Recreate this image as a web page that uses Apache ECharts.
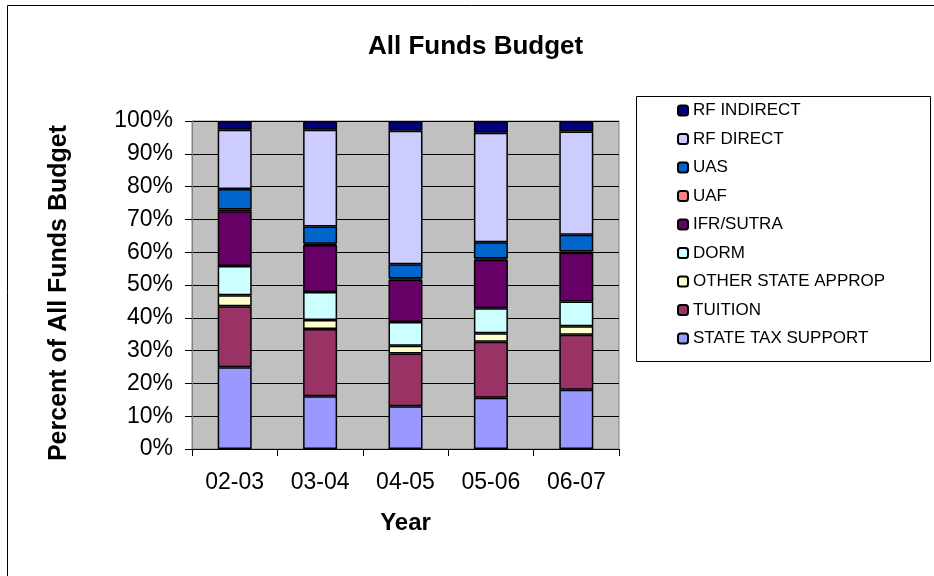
<!DOCTYPE html>
<html>
<head>
<meta charset="utf-8">
<script src="https://cdn.jsdelivr.net/npm/echarts@6/dist/echarts.min.js"></script>
<style>
html,body{margin:0;padding:0;background:#fff;}
#chart{width:934px;height:576px;}
</style>
</head>
<body>
<div id="chart"></div>
<script>
// Categories (fiscal years)
const categories = ['02-03', '03-04', '04-05', '05-06', '06-07'];

// Percent of all funds budget, per source
const stateTaxSupport = [24.9, 16.1, 13.0, 15.6, 18.1];
const tuition         = [18.6, 20.5, 16.1, 17.1, 16.7];
const otherStateAppr  = [3.4, 2.7, 2.4, 2.6, 2.6];
const dorm            = [8.9, 8.6, 7.2, 7.6, 7.6];
const ifrSutra        = [16.7, 14.3, 12.9, 14.8, 14.8];
const uaf             = [0.5, 0.4, 0.4, 0.4, 0.4];
const uas             = [6.3, 5.2, 4.3, 4.9, 5.1];
const rfDirect        = [18.0, 29.5, 40.7, 33.4, 31.5];
const rfIndirect      = [2.7, 2.7, 3.0, 3.6, 3.2];

// Series names (bottom to top)
const seriesNames = ['STATE TAX SUPPORT', 'TUITION', 'OTHER STATE APPROP', 'DORM', 'IFR/SUTRA', 'UAF', 'UAS', 'RF DIRECT', 'RF INDIRECT'];
const seriesValues = [stateTaxSupport, tuition, otherStateAppr, dorm, ifrSutra, uaf, uas, rfDirect, rfIndirect];
const seriesColors = ['#9999FF', '#993366', '#FFFFCC', '#CCFFFF', '#660066', '#FF8080', '#0066CC', '#CCCCFF', '#000080'];

// Y-axis tick settings
const yMin = 0, yMax = 100, yInterval = 10;

const FONT = 'Arial, "Liberation Sans", Helvetica, sans-serif';

const chart = echarts.init(document.getElementById('chart'), null, {renderer: 'canvas'});

const series = seriesNames.map((name, i) => ({
  name: name,
  type: 'bar',
  stack: 'total',
  barWidth: 34,
  data: seriesValues[i],
  itemStyle: {color: seriesColors[i], borderColor: '#000', borderWidth: 1.5},
  emphasis: {disabled: true}
}));

chart.setOption({
  backgroundColor: '#fff',
  animation: false,
  textStyle: {fontFamily: FONT},
  title: {
    text: 'All Funds Budget',
    left: 368,
    top: 34,
    padding: 0,
    textStyle: {fontSize: 26, fontWeight: 'bold', color: '#000', fontFamily: FONT}
  },
  graphic: [
    {type: 'rect', z: -10, silent: true, shape: {x: 7.5, y: 5.5, width: 960, height: 620}, style: {fill: 'none', stroke: '#000', lineWidth: 1}},
    {type: 'rect', z: -5, silent: true, shape: {x: 636.5, y: 96.5, width: 294, height: 265}, style: {fill: '#fff', stroke: '#000', lineWidth: 1}}
  ],
  legend: {
    orient: 'vertical',
    left: 677,
    top: 102,
    padding: 0,
    itemWidth: 10,
    itemHeight: 10,
    itemGap: 11.5,
    data: seriesNames.slice().reverse(),
    textStyle: {fontSize: 17, color: '#000', fontFamily: FONT}
  },
  grid: {
    left: 192, right: 315, top: 121, bottom: 127,
    show: true, backgroundColor: '#C0C0C0', borderColor: '#808080', borderWidth: 1
  },
  xAxis: {
    type: 'category',
    data: categories,
    name: 'Year',
    nameLocation: 'middle',
    nameGap: 62,
    nameTextStyle: {fontSize: 24, fontWeight: 'bold', color: '#000', fontFamily: FONT},
    axisLine: {show: true, lineStyle: {color: '#000', width: 1}},
    axisTick: {show: true, length: 7, lineStyle: {color: '#000'}},
    axisLabel: {fontSize: 23, color: '#000', margin: 22, fontFamily: FONT},
    splitLine: {show: false}
  },
  yAxis: {
    type: 'value',
    min: yMin, max: yMax, interval: yInterval,
    name: 'Percent of All Funds Budget',
    nameLocation: 'middle',
    nameRotate: 90,
    nameGap: 120,
    nameTextStyle: {fontSize: 25, fontWeight: 'bold', color: '#000', fontFamily: FONT, padding: [0, 16, 0, 0]},
    axisLine: {show: true, lineStyle: {color: '#808080', width: 1}},
    axisTick: {show: true, length: 7, lineStyle: {color: '#000'}},
    axisLabel: {fontSize: 23, color: '#000', margin: 19, formatter: '{value}%', fontFamily: FONT},
    splitLine: {show: true, lineStyle: {color: '#000', width: 1}}
  },
  series: series
});
</script>
</body>
</html>
